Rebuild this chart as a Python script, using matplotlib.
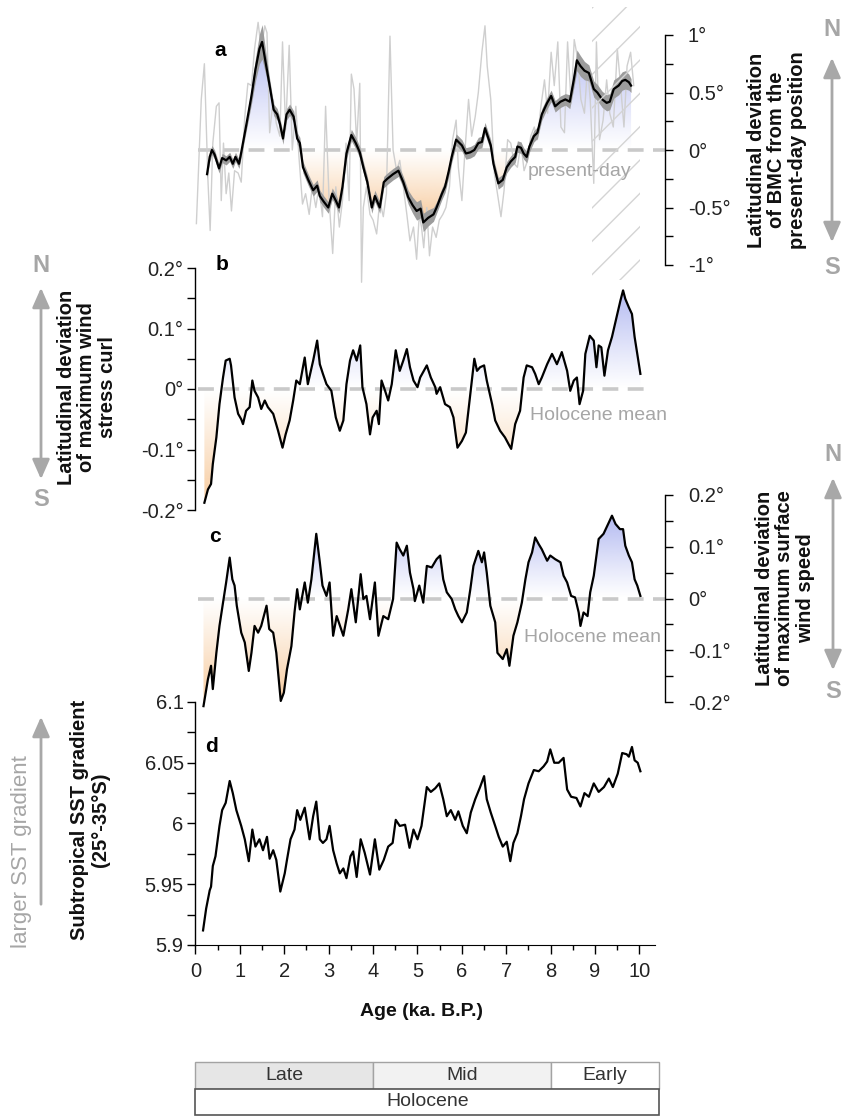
import numpy as np
import matplotlib
matplotlib.use('Agg')
import matplotlib.pyplot as plt
from matplotlib.patches import Polygon, Rectangle, FancyArrowPatch
from matplotlib.colors import to_rgb

plt.rcParams['font.family'] = ['Liberation Sans', 'DejaVu Sans']
plt.rcParams['hatch.linewidth'] = 1.0

# ---- panel a: BMC latitudinal deviation (smoothed, uncertainty, raw) ----
age_a = [0.26, 0.32, 0.37, 0.43, 0.53, 0.60, 0.69, 0.77, 0.84, 0.90,
         0.98, 1.03, 1.14, 1.26, 1.35, 1.44, 1.50, 1.58, 1.67, 1.76,
         1.84, 1.90, 1.97, 2.05, 2.12, 2.21, 2.29, 2.35, 2.42, 2.54,
         2.65, 2.74, 2.80, 2.89, 2.99, 3.08, 3.16, 3.23, 3.31, 3.40,
         3.51, 3.61, 3.70, 3.78, 3.87, 3.97, 4.04, 4.15, 4.24, 4.32,
         4.45, 4.57, 4.68, 4.79, 4.89, 4.98, 5.07, 5.13, 5.24, 5.36,
         5.43, 5.55, 5.62, 5.70, 5.77, 5.87, 6.00, 6.09, 6.19, 6.28,
         6.37, 6.45, 6.52, 6.58, 6.65, 6.71, 6.82, 6.92, 7.01, 7.10,
         7.20, 7.25, 7.33, 7.39, 7.46, 7.52, 7.62, 7.70, 7.80, 7.92,
         8.01, 8.10, 8.22, 8.33, 8.43, 8.52, 8.59, 8.67, 8.76, 8.86,
         8.97, 9.05, 9.16, 9.26, 9.33, 9.42, 9.53, 9.61, 9.68, 9.76, 9.81]
bmc_a = [-0.21, -0.06, 0.0, -0.04, -0.16, -0.07, -0.09, -0.06, -0.12, -0.06,
         -0.12, -0.02, 0.21, 0.47, 0.70, 0.88, 0.94, 0.76, 0.56, 0.35,
         0.31, 0.23, 0.10, 0.31, 0.35, 0.29, 0.10, 0.06, -0.15, -0.26,
         -0.35, -0.31, -0.40, -0.45, -0.50, -0.38, -0.44, -0.50, -0.32, -0.03,
         0.13, 0.06, -0.02, -0.15, -0.28, -0.50, -0.40, -0.50, -0.28, -0.25,
         -0.21, -0.18, -0.28, -0.41, -0.48, -0.53, -0.51, -0.63, -0.59, -0.56,
         -0.50, -0.38, -0.32, -0.19, -0.06, 0.09, 0.04, -0.03, -0.02, 0.0,
         0.06, 0.07, 0.19, 0.12, 0.04, -0.12, -0.29, -0.26, -0.15, -0.10,
         -0.06, 0.03, 0.02, -0.03, -0.06, 0.03, 0.12, 0.15, 0.31, 0.41,
         0.47, 0.38, 0.42, 0.44, 0.42, 0.61, 0.78, 0.73, 0.69, 0.67,
         0.53, 0.50, 0.44, 0.41, 0.42, 0.53, 0.56, 0.60, 0.61, 0.59, 0.56]
err_a = [0.04, 0.04, 0.04, 0.04, 0.04, 0.04, 0.04, 0.04, 0.04, 0.04,
         0.04, 0.04, 0.05, 0.07, 0.10, 0.13, 0.15, 0.10, 0.06, 0.05,
         0.05, 0.05, 0.05, 0.05, 0.05, 0.05, 0.05, 0.05, 0.05, 0.05,
         0.05, 0.05, 0.05, 0.05, 0.05, 0.05, 0.05, 0.05, 0.05, 0.05,
         0.05, 0.05, 0.05, 0.05, 0.05, 0.05, 0.05, 0.05, 0.05, 0.05,
         0.05, 0.05, 0.05, 0.06, 0.07, 0.08, 0.08, 0.08, 0.07, 0.06,
         0.05, 0.05, 0.05, 0.05, 0.05, 0.05, 0.05, 0.05, 0.05, 0.05,
         0.05, 0.05, 0.05, 0.05, 0.05, 0.05, 0.05, 0.05, 0.05, 0.05,
         0.05, 0.05, 0.05, 0.05, 0.05, 0.05, 0.05, 0.05, 0.05, 0.05,
         0.05, 0.05, 0.05, 0.05, 0.06, 0.07, 0.09, 0.09, 0.08, 0.07,
         0.07, 0.07, 0.07, 0.07, 0.07, 0.08, 0.08, 0.08, 0.08, 0.07, 0.06]
age_raw = [0.02, 0.13, 0.20, 0.28, 0.33, 0.39, 0.47, 0.53, 0.58, 0.63,
           0.69, 0.75, 0.81, 0.88, 0.96, 1.03, 1.11, 1.18, 1.26, 1.33,
           1.41, 1.48, 1.56, 1.61, 1.67, 1.75, 1.82, 1.90, 1.96, 2.03,
           2.11, 2.18, 2.26, 2.33, 2.41, 2.48, 2.56, 2.63, 2.71, 2.78,
           2.86, 2.93, 3.01, 3.09, 3.16, 3.24, 3.31, 3.39, 3.46, 3.51,
           3.57, 3.63, 3.70, 3.74, 3.78, 3.85, 3.93, 4.00, 4.08, 4.15,
           4.23, 4.30, 4.38, 4.45, 4.53, 4.60, 4.68, 4.76, 4.83, 4.91,
           4.98, 5.04, 5.09, 5.14, 5.21, 5.27, 5.34, 5.42, 5.49, 5.57,
           5.64, 5.72, 5.79, 5.87, 5.92, 6.00, 6.07, 6.15, 6.22, 6.30,
           6.37, 6.45, 6.52, 6.57, 6.65, 6.73, 6.80, 6.88, 6.95, 7.03,
           7.10, 7.18, 7.25, 7.33, 7.40, 7.48, 7.55, 7.63, 7.70, 7.78,
           7.86, 7.93, 8.01, 8.08, 8.16, 8.23, 8.31, 8.38, 8.46, 8.53,
           8.61, 8.68, 8.76, 8.83, 8.89, 8.97, 9.03, 9.10, 9.18, 9.26,
           9.33, 9.41, 9.50, 9.57, 9.65, 9.72, 9.80, 9.87]
bmc_raw = [-0.64, 0.44, 0.75, -0.26, -0.70, 0.06, 0.38, 0.41, -0.44, 0.06,
           -0.38, -0.20, -0.53, -0.18, -0.20, -0.28, 0.29, 0.58, 0.56, 0.88,
           1.11, 0.88, 1.08, 1.02, 0.15, 0.44, 0.23, 0.12, 0.94, 0.18,
           0.91, 0.0, 0.38, -0.06, -0.47, -0.38, -0.56, -0.32, -0.50, -0.32,
           -0.58, 0.38, -0.44, -0.90, -0.32, -0.67, -0.44, 0.06, -0.44, 0.66,
           0.53, 0.06, 0.58, -1.15, -0.50, -0.32, -0.56, -0.61, -0.73, -0.44,
           -0.58, -0.38, 0.99, 0.0, -0.18, -0.09, -0.32, -0.56, -0.79, -0.67,
           -0.95, -0.56, -0.67, -0.85, -0.50, -0.92, -0.67, -0.76, -0.61, -0.56,
           -0.50, -0.32, 0.09, 0.26, -0.15, -0.44, 0.0, 0.44, 0.12, 0.29,
           0.50, 0.85, 1.08, 0.73, 0.44, -0.20, -0.38, -0.58, -0.35, 0.09,
           0.06, -0.12, -0.15, 0.06, -0.18, -0.09, 0.12, 0.20, 0.09, 0.38,
           0.61, 0.32, 0.85, 0.56, 0.94, 0.20, 0.15, 0.94, 0.41, 0.96,
           0.79, 0.44, 0.32, 0.73, 0.44, -0.29, 0.94, 0.09, 0.26, 0.61,
           0.32, 0.20, 0.88, 0.58, 0.20, 0.73, 0.85, 0.56]

# ---- panel b: latitude of maximum wind stress curl ----
age_b = [0.20, 0.28, 0.35, 0.39, 0.47, 0.54, 0.62, 0.68, 0.77, 0.80,
         0.88, 0.96, 1.03, 1.07, 1.14, 1.22, 1.28, 1.33, 1.41, 1.48,
         1.56, 1.63, 1.75, 1.86, 1.96, 2.03, 2.12, 2.20, 2.27, 2.35,
         2.46, 2.53, 2.65, 2.74, 2.80, 2.87, 2.95, 3.06, 3.16, 3.25,
         3.33, 3.40, 3.48, 3.55, 3.63, 3.71, 3.76, 3.85, 3.93, 3.99,
         4.08, 4.13, 4.19, 4.27, 4.34, 4.42, 4.51, 4.60, 4.68, 4.76,
         4.83, 4.91, 5.00, 5.06, 5.21, 5.30, 5.40, 5.43, 5.51, 5.62,
         5.73, 5.81, 5.90, 6.00, 6.09, 6.19, 6.28, 6.34, 6.41, 6.50,
         6.56, 6.68, 6.75, 6.86, 6.97, 7.05, 7.11, 7.20, 7.31, 7.39,
         7.46, 7.58, 7.65, 7.73, 7.80, 7.92, 8.03, 8.14, 8.25, 8.37,
         8.44, 8.52, 8.59, 8.65, 8.73, 8.78, 8.88, 8.97, 9.03, 9.08,
         9.14, 9.21, 9.29, 9.38, 9.50, 9.57, 9.63, 9.68, 9.76, 9.83,
         9.89, 9.95, 10.02]
curl_b = [-0.188, -0.166, -0.157, -0.124, -0.080, -0.025, 0.019, 0.047, 0.050, 0.039,
          -0.014, -0.041, -0.050, -0.058, -0.036, -0.030, 0.014, -0.003, -0.014, -0.033,
          -0.019, -0.030, -0.041, -0.069, -0.097, -0.075, -0.052, -0.019, 0.014, 0.008,
          0.052, 0.008, 0.047, 0.080, 0.041, 0.025, 0.008, -0.003, -0.047, -0.069,
          -0.052, 0.008, 0.047, 0.064, 0.047, 0.072, 0.003, -0.025, -0.075, -0.047,
          -0.036, -0.058, 0.014, -0.003, -0.019, 0.008, 0.064, 0.030, 0.047, 0.066,
          0.036, 0.014, 0.003, 0.019, 0.039, 0.019, 0.003, -0.008, 0.003, -0.025,
          -0.030, -0.047, -0.097, -0.086, -0.072, -0.008, 0.050, 0.030, 0.036, 0.039,
          0.014, -0.025, -0.052, -0.069, -0.080, -0.091, -0.099, -0.058, -0.036, 0.019,
          0.039, 0.036, 0.025, 0.008, 0.019, 0.041, 0.058, 0.041, 0.061, 0.030,
          -0.003, 0.014, 0.019, -0.025, -0.003, 0.058, 0.088, 0.080, 0.036, 0.072,
          0.069, 0.022, 0.064, 0.086, 0.124, 0.146, 0.163, 0.149, 0.135, 0.124,
          0.086, 0.058, 0.025]

# ---- panel c: latitude of maximum surface wind speed ----
age_c = [0.18, 0.28, 0.35, 0.39, 0.47, 0.54, 0.62, 0.69, 0.77, 0.83,
         0.88, 0.93, 1.03, 1.11, 1.20, 1.26, 1.33, 1.41, 1.48, 1.60,
         1.66, 1.75, 1.82, 1.92, 1.99, 2.06, 2.16, 2.23, 2.29, 2.35,
         2.46, 2.53, 2.61, 2.72, 2.80, 2.86, 2.95, 3.02, 3.10, 3.18,
         3.33, 3.44, 3.51, 3.61, 3.72, 3.78, 3.85, 3.93, 4.04, 4.12,
         4.23, 4.34, 4.45, 4.53, 4.60, 4.68, 4.76, 4.83, 4.91, 4.94,
         5.04, 5.13, 5.21, 5.32, 5.43, 5.51, 5.58, 5.66, 5.77, 5.85,
         5.92, 6.00, 6.11, 6.19, 6.26, 6.37, 6.45, 6.50, 6.56, 6.64,
         6.75, 6.80, 6.92, 7.01, 7.07, 7.16, 7.25, 7.35, 7.43, 7.50,
         7.58, 7.65, 7.73, 7.80, 7.92, 7.99, 8.10, 8.22, 8.29, 8.37,
         8.46, 8.55, 8.63, 8.67, 8.74, 8.83, 8.89, 8.97, 9.08, 9.19,
         9.31, 9.38, 9.46, 9.56, 9.63, 9.68, 9.76, 9.83, 9.89, 9.95, 10.02]
wind_c = [-0.208, -0.156, -0.130, -0.175, -0.105, -0.053, -0.008, 0.031, 0.079, 0.037,
          0.025, -0.014, -0.066, -0.085, -0.140, -0.105, -0.053, -0.066, -0.053, -0.014,
          -0.059, -0.066, -0.105, -0.198, -0.182, -0.137, -0.092, -0.027, 0.018, -0.021,
          0.031, -0.008, 0.037, 0.125, 0.070, 0.025, 0.005, 0.031, -0.072, -0.034,
          -0.072, -0.021, 0.018, -0.046, 0.047, -0.001, 0.005, -0.040, 0.031, -0.072,
          -0.034, -0.040, -0.001, 0.108, 0.095, 0.083, 0.102, 0.050, 0.018, -0.005,
          0.025, -0.008, 0.063, 0.060, 0.076, 0.083, 0.037, 0.012, -0.001, -0.021,
          -0.034, -0.046, -0.027, 0.018, 0.063, 0.092, 0.070, 0.089, 0.050, -0.014,
          -0.046, -0.105, -0.117, -0.098, -0.130, -0.072, -0.046, -0.008, 0.037, 0.070,
          0.089, 0.118, 0.105, 0.095, 0.073, 0.083, 0.076, 0.070, 0.044, 0.031,
          0.005, 0.002, -0.027, -0.053, -0.027, -0.034, 0.012, 0.044, 0.115, 0.125,
          0.147, 0.160, 0.144, 0.134, 0.134, 0.102, 0.083, 0.070, 0.037, 0.025, 0.005]

# ---- panel d: subtropical SST gradient ----
age_d = [0.17, 0.24, 0.32, 0.35, 0.39, 0.45, 0.54, 0.60, 0.68, 0.77,
         0.84, 0.92, 1.03, 1.11, 1.20, 1.28, 1.35, 1.44, 1.52, 1.61,
         1.67, 1.75, 1.82, 1.91, 2.01, 2.06, 2.14, 2.23, 2.29, 2.36,
         2.46, 2.57, 2.65, 2.72, 2.80, 2.87, 2.95, 3.02, 3.10, 3.18,
         3.25, 3.33, 3.40, 3.49, 3.55, 3.63, 3.72, 3.81, 3.93, 4.04,
         4.14, 4.24, 4.34, 4.44, 4.51, 4.60, 4.72, 4.82, 4.91, 5.00,
         5.09, 5.21, 5.30, 5.40, 5.49, 5.58, 5.66, 5.75, 5.85, 5.92,
         6.02, 6.11, 6.20, 6.30, 6.41, 6.50, 6.56, 6.65, 6.75, 6.83,
         6.92, 7.01, 7.09, 7.16, 7.25, 7.33, 7.40, 7.50, 7.62, 7.73,
         7.84, 7.92, 7.99, 8.08, 8.18, 8.29, 8.37, 8.46, 8.58, 8.67,
         8.76, 8.86, 8.97, 9.08, 9.20, 9.31, 9.40, 9.51, 9.61, 9.71,
         9.76, 9.83, 9.89, 9.96, 10.02]
sst_d = [5.912, 5.930, 5.945, 5.948, 5.965, 5.973, 5.998, 6.011, 6.017, 6.035,
         6.025, 6.011, 5.998, 5.987, 5.969, 5.995, 5.981, 5.987, 5.978, 5.989,
         5.971, 5.978, 5.970, 5.944, 5.959, 5.970, 5.987, 5.995, 6.011, 6.003,
         6.013, 5.987, 6.006, 6.018, 5.987, 5.984, 5.987, 5.998, 5.978, 5.967,
         5.959, 5.963, 5.955, 5.973, 5.977, 5.956, 5.987, 5.976, 5.958, 5.987,
         5.962, 5.970, 5.981, 5.984, 6.003, 5.998, 5.999, 5.980, 5.995, 5.987,
         5.998, 6.030, 6.026, 6.029, 6.033, 6.020, 6.006, 6.011, 6.003, 6.010,
         5.998, 5.992, 6.009, 6.020, 6.030, 6.039, 6.020, 6.009, 5.998, 5.989,
         5.981, 5.985, 5.969, 5.984, 5.992, 6.006, 6.020, 6.033, 6.044, 6.043,
         6.047, 6.051, 6.061, 6.050, 6.050, 6.054, 6.028, 6.022, 6.021, 6.014,
         6.025, 6.022, 6.033, 6.026, 6.030, 6.037, 6.030, 6.041, 6.058, 6.057,
         6.055, 6.063, 6.052, 6.050, 6.043]

# ---- ticks and labels ----
age_ticks = [0, 1, 2, 3, 4, 5, 6, 7, 8, 9, 10]
a_ticks = [-1, -0.5, 0, 0.5, 1]
a_labels = ['-1°', '-0.5°', '0°', '0.5°', '1°']
bc_ticks = [-0.2, -0.1, 0, 0.1, 0.2]
bc_labels = ['-0.2°', '-0.1°', '0°', '0.1°', '0.2°']
d_ticks = [5.9, 5.95, 6.0, 6.05, 6.1]
d_labels = ['5.9', '5.95', '6', '6.05', '6.1']
stage_names = ['Late', 'Mid', 'Early']
stage_edges = [0, 4, 8, 10.45]
stage_colors = ['#e6e6e6', '#f2f2f2', '#ffffff']

# ---- layout helpers (pixel positions of the 845x1116 figure) ----
W, H = 845, 1116
PX0, PXR, PPK = 195.5, 665.0, 44.4   # x=0 pixel, right spine pixel, px per ka
XMAX = (PXR - PX0) / PPK
GREY = '#a6a6a6'
TXT = '#222222'
TICK_FS = 14.5


def fx(px):
    return px / W


def fy(py):
    return 1 - py / H


fig = plt.figure(figsize=(W / 100, H / 100), dpi=100)


def panel(top, bottom, ylim):
    ax = fig.add_axes([fx(PX0), fy(bottom), (PXR - PX0) / W, (bottom - top) / H])
    ax.set_xlim(0, XMAX)
    ax.set_ylim(*ylim)
    ax.patch.set_alpha(0)
    for s in ax.spines.values():
        s.set_visible(False)
    ax.tick_params(axis='x', bottom=False, labelbottom=False)
    return ax


def yaxis_style(ax, side, ticks, labels, minor, bounds):
    sp = ax.spines[side]
    sp.set_visible(True)
    sp.set_bounds(*bounds)
    sp.set_linewidth(1.0)
    if side == 'right':
        ax.yaxis.tick_right()
        pad = 11
    else:
        ax.yaxis.tick_left()
        pad = 3
    ax.set_yticks(ticks)
    ax.set_yticklabels(labels)
    ax.set_yticks(minor, minor=True)
    ax.tick_params(axis='y', which='both', direction='out', length=5.5, width=1,
                   labelsize=TICK_FS, labelcolor=TXT, pad=pad)


def grad_fill(ax, x, y, top_val, bot_val, blue='#aeb5f0', orange='#f7c898'):
    x = np.asarray(x)
    y = np.asarray(y)
    verts = np.column_stack([np.r_[x[0], x, x[-1]], np.r_[0, y, 0]])
    clip = Polygon(verts, closed=True, fc='none', ec='none')
    ax.add_patch(clip)
    n = 200
    for col, lo, hi, up in ((blue, 0, top_val, True), (orange, bot_val, 0, False)):
        img = np.zeros((n, 1, 4))
        img[..., :3] = to_rgb(col)
        ramp = np.linspace(0, 1, n) if up else np.linspace(1, 0, n)
        img[:, 0, 3] = 0.95 * ramp ** 1.1
        im = ax.imshow(img, extent=[x[0], x[-1], lo, hi], origin='lower',
                       aspect='auto', interpolation='bilinear', zorder=1)
        im.set_clip_path(clip)


def zero_line(ax, x1):
    ax.plot([0.05, x1], [0, 0], color='#c9c9c9', lw=2.6,
            ls=(0, (4.4, 2.6)), zorder=2, clip_on=False)


# ---- panel a ----
ax_a = panel(150 - 1.25 * 115, 150 + 1.22 * 115, (-1.22, 1.25))
grad_fill(ax_a, age_a, bmc_a, 0.95, -0.62)
zero_line(ax_a, XMAX)
ax_a.plot(age_raw, bmc_raw, color='#cfcfcf', lw=1.0, zorder=3)
lo = np.array(bmc_a) - np.array(err_a)
hi = np.array(bmc_a) + np.array(err_a)
ax_a.fill_between(age_a, lo, hi, color='#9c9c9c', lw=0, zorder=4)
ax_a.plot(age_a, bmc_a, color='black', lw=1.6, zorder=5)
ax_a.add_patch(Rectangle((8.94, -1.13), 1.08, 2.37, fill=False, hatch='/',
                         edgecolor='#d4d4d4', lw=0, zorder=6))
yaxis_style(ax_a, 'right', a_ticks, a_labels, [-0.75, -0.25, 0.25, 0.75], (-1, 1))

# ---- panel b ----
ax_b = panel(268, 510, (-0.2, 0.2))
grad_fill(ax_b, age_b, curl_b, 0.165, -0.19)
zero_line(ax_b, 10.3)
ax_b.plot(age_b, curl_b, color='black', lw=1.6, zorder=5)
yaxis_style(ax_b, 'left', bc_ticks, bc_labels, [-0.15, -0.05, 0.05, 0.15], (-0.2, 0.2))

# ---- panel c ----
ax_c = panel(495, 702 + 0.035 * 517.5, (-0.235, 0.2))
grad_fill(ax_c, age_c, wind_c, 0.16, -0.2)
zero_line(ax_c, XMAX)
ax_c.plot(age_c, wind_c, color='black', lw=1.6, zorder=5)
yaxis_style(ax_c, 'right', bc_ticks, bc_labels, [-0.15, -0.05, 0.05, 0.15], (-0.2, 0.2))

# ---- panel d ----
ax_d = panel(702, 945, (5.9, 6.1))
ax_d.plot(age_d, sst_d, color='black', lw=1.6, zorder=5)
yaxis_style(ax_d, 'left', d_ticks, d_labels, [5.925, 5.975, 6.025, 6.075], (5.9, 6.1))
ax_d.spines['bottom'].set_visible(True)
ax_d.spines['bottom'].set_bounds(0, 10.35)
ax_d.set_xticks(age_ticks)
ax_d.set_xticklabels([str(t) for t in age_ticks])
ax_d.set_xticks([t + 0.5 for t in age_ticks[:-1]], minor=True)
ax_d.tick_params(axis='x', which='major', bottom=True, labelbottom=True, direction='out',
                 length=6.5, width=1, labelsize=TICK_FS, labelcolor=TXT, pad=6)
ax_d.tick_params(axis='x', which='minor', bottom=True, direction='out', length=3.5, width=1)

# ---- panel letters and in-plot notes ----
for s, px, py in (('a', 220, 50), ('b', 222, 265), ('c', 215, 537), ('d', 212, 747)):
    fig.text(fx(px), fy(py), s, fontsize=15, fontweight='bold', ha='center', va='center')
fig.text(fx(580), fy(172), 'present-day', color=GREY, fontsize=14, ha='center', va='center')
fig.text(fx(598), fy(416), 'Holocene mean', color=GREY, fontsize=14, ha='center', va='center')
fig.text(fx(592), fy(637), 'Holocene mean', color=GREY, fontsize=14, ha='center', va='center')

# ---- axis titles ----
lab = dict(fontsize=14.5, fontweight='bold', rotation=90, ha='center', va='center',
           multialignment='center', linespacing=1.12, color='#111111')
fig.text(fx(777), fy(150), 'Latitudinal deviation\nof BMC from the\npresent-day position', **lab)
fig.text(fx(87), fy(387), 'Latitudinal deviation\nof maximum wind\nstress curl', **lab)
fig.text(fx(785), fy(588), 'Latitudinal deviation\nof maximum surface\nwind speed', **lab)
fig.text(fx(90), fy(820), 'Subtropical SST gradient\n(25°-35°S)', **lab)
fig.text(fx(22), fy(852), 'larger SST gradient', color=GREY, fontsize=16, rotation=90,
         ha='center', va='center')
fig.text(fx(422), fy(1012), 'Age (ka. B.P.)', fontsize=14, fontweight='bold',
         ha='center', va='center', color='#111111')


# ---- N/S arrows ----
def arrow(px, py0, py1, style):
    fig.add_artist(FancyArrowPatch((fx(px), fy(py0)), (fx(px), fy(py1)),
                                   transform=fig.transFigure, arrowstyle=style,
                                   mutation_scale=24, color='#a8a8a8', lw=2))


both = '<|-|>,head_length=0.5,head_width=0.22'
for px, ytop, ybot, yn, ys in ((832, 55, 245, 30, 268), (41, 285, 482, 266, 500),
                               (833, 475, 673, 455, 691)):
    arrow(px, ybot, ytop, both)
    fig.text(fx(px), fy(yn), 'N', color=GREY, fontsize=17, fontweight='bold',
             ha='center', va='center')
    fig.text(fx(px), fy(ys), 'S', color=GREY, fontsize=17, fontweight='bold',
             ha='center', va='center')
arrow(41, 907, 714, '-|>,head_length=0.5,head_width=0.22')

# ---- Holocene stage bar ----
ax_t = fig.add_axes([fx(PX0), fy(1115), (PXR - PX0) / W, (1115 - 1062) / H])
ax_t.set_xlim(0, XMAX)
ax_t.set_ylim(0, 1)
ax_t.axis('off')
for name, x0, x1, col in zip(stage_names, stage_edges[:-1], stage_edges[1:], stage_colors):
    ax_t.add_patch(Rectangle((x0, 0.5), x1 - x0, 0.5, fc=col, ec='#a3a3a3', lw=1,
                             clip_on=False))
    ax_t.text((x0 + x1) / 2, 0.75, name, fontsize=14, color='#333333',
              ha='center', va='center')
ax_t.add_patch(Rectangle((stage_edges[0], 0), stage_edges[-1] - stage_edges[0], 0.5,
                         fc='white', ec='#555555', lw=1.2, clip_on=False))
ax_t.text((stage_edges[0] + stage_edges[-1]) / 2, 0.25, 'Holocene', fontsize=14,
          color='#333333', ha='center', va='center')

fig.savefig('out.png', dpi=100)
